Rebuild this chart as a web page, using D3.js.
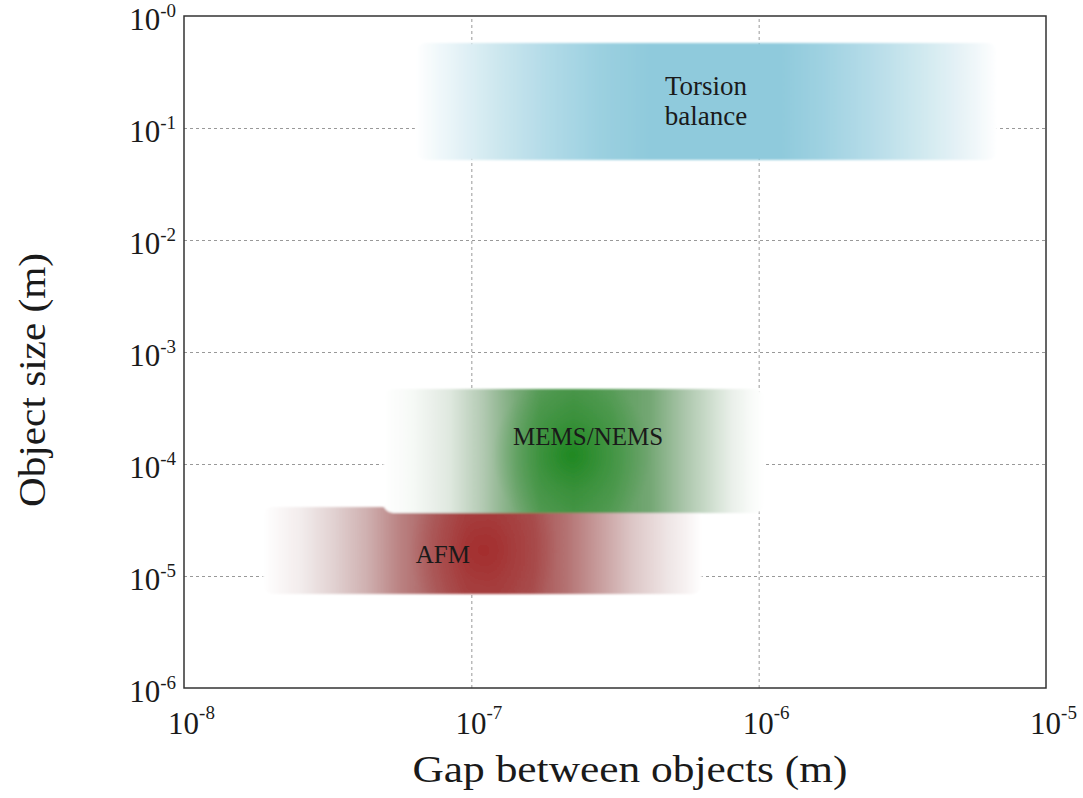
<!DOCTYPE html>
<html><head><meta charset="utf-8">
<script src="https://cdn.jsdelivr.net/npm/d3@7"></script>
<style>body{margin:0;background:#fff;} svg{display:block;font-family:"Liberation Serif","Times New Roman",serif;}</style>
</head><body><svg id="c" width="1083" height="798"></svg>
<script>
// ---- data ----
const xTicks = [1e-8, 1e-7, 1e-6, 1e-5];
const xTickExp = ["-8", "-7", "-6", "-5"];
const yTicks = [1, 1e-1, 1e-2, 1e-3, 1e-4, 1e-5, 1e-6];
const yTickExp = ["-0", "-1", "-2", "-3", "-4", "-5", "-6"];
const xTitle = "Gap between objects (m)";
const yTitle = "Object size (m)";

const regionNames = ["Torsion balance", "AFM", "MEMS/NEMS"];
const regionLabelLines = [["Torsion", "balance"], ["AFM"], ["MEMS/NEMS"]];
const regionXMin = [6.4e-8, 1.88e-8, 4.93e-8];
const regionXMax = [6.8e-6, 6.35e-7, 1.05e-6];
const regionYMax = [0.574, 4.13e-5, 4.68e-4];
const regionYMin = [0.0518, 6.9e-6, 3.65e-5];
const regionPeakX = [6.56e-7, 1.1e-7, 2.24e-7];
const regionPeakY = [0.174, 1.7e-5, 1.2e-4];
const labelX = [6.56e-7, 7.96e-8, 2.55e-7];
const labelY = [0.174, 1.56e-5, 1.76e-4];

// ---- styles ----
const bandStops = [
  [[0,"#ffffff"],[0.062,"#e8f4f8"],[0.147,"#cbe6ee"],[0.233,"#b0dae7"],[0.318,"#9bd0e0"],[0.404,"#8fcadc"],[0.627,"#8fcadc"],[0.695,"#9ed1e1"],[0.781,"#b5dce8"],[0.866,"#cfe8ef"],[0.952,"#ecf5f8"],[1,"#ffffff"]],
  [[0,"#ffffff"],[0.084,"#f3eded"],[0.16,"#e2d2d2"],[0.237,"#cfb0b0"],[0.312,"#ba8282"],[0.387,"#ac6262"],[0.465,"#a64848"],[0.53,"#a64646"],[0.615,"#a85151"],[0.692,"#b47272"],[0.768,"#c89e9e"],[0.843,"#ddc7c7"],[0.92,"#eee4e4"],[0.973,"#f9f5f5"],[1,"#ffffff"]],
  [[0,"#ffffff"],[0.08,"#f6f9f6"],[0.175,"#dfe8df"],[0.26,"#b3cab3"],[0.306,"#94b894"],[0.35,"#77a977"],[0.41,"#5a9c5a"],[0.5,"#4f974f"],[0.6,"#5a9d5a"],[0.70,"#74a774"],[0.785,"#a8c4a8"],[0.874,"#d6e3d6"],[0.916,"#eaf0ea"],[0.97,"#fafcfa"],[1,"#ffffff"]]
];
const spotStyle = [
  {color:"#8cc8db", op:0, r:10},
  {color:"#a32222", op:0.7, r:75},
  {color:"#17861a", op:0.85, r:80}
];
const labelFont = [27, 25, 25];

const W = 1083, H = 798;
const m = {left:184, right:1046, top:16, bottom:688};
const x = d3.scaleLog().domain([1e-8, 1e-5]).range([m.left, m.right]);
const y = d3.scaleLog().domain([1e-6, 1]).range([m.bottom, m.top]);

const svg = d3.select("#c");
const defs = svg.append("defs");
const f = defs.append("filter").attr("id","soft").attr("x","-5%").attr("y","-10%").attr("width","110%").attr("height","120%");
f.append("feGaussianBlur").attr("stdDeviation",1.3);

// grid
const gridX = svg.append("g").attr("transform",`translate(0,${m.bottom})`)
  .call(d3.axisBottom(x).tickValues(xTicks.slice(1,-1)).tickSize(-(m.bottom-m.top)).tickFormat(""));
gridX.select(".domain").remove();
gridX.selectAll("line").attr("stroke","#999").attr("stroke-dasharray","3,3");
const gridY = svg.append("g").attr("transform",`translate(${m.left},0)`)
  .call(d3.axisLeft(y).tickValues(yTicks.slice(1,-1)).tickSize(-(m.right-m.left)).tickFormat(""));
gridY.select(".domain").remove();
gridY.selectAll("line").attr("stroke","#999").attr("stroke-dasharray","3,3");

// regions
const regions = svg.append("g").attr("filter","url(#soft)");
regionNames.forEach((name, i) => {
  const x0 = x(regionXMin[i]), x1 = x(regionXMax[i]);
  const y0 = y(regionYMax[i]), y1 = y(regionYMin[i]);
  const lg = defs.append("linearGradient").attr("id","lg"+i).attr("x1",0).attr("x2",1).attr("y1",0).attr("y2",0);
  bandStops[i].forEach(s => lg.append("stop").attr("offset",s[0]).attr("stop-color",s[1]));
  const cp = defs.append("clipPath").attr("id","cp"+i);
  cp.append("rect").attr("x",x0).attr("y",y0).attr("width",x1-x0).attr("height",y1-y0).attr("rx",10);
  const g = regions.append("g");
  g.append("rect").attr("x",x0).attr("y",y0).attr("width",x1-x0).attr("height",y1-y0).attr("rx",10)
    .attr("fill","url(#lg"+i+")");
  const ss = spotStyle[i];
  if (ss.op > 0) {
    const rg = defs.append("radialGradient").attr("id","rg"+i);
    rg.append("stop").attr("offset",0).attr("stop-color",ss.color).attr("stop-opacity",ss.op);
    rg.append("stop").attr("offset",0.45).attr("stop-color",ss.color).attr("stop-opacity",ss.op*0.45);
    rg.append("stop").attr("offset",1).attr("stop-color",ss.color).attr("stop-opacity",0);
    g.append("circle").attr("cx",x(regionPeakX[i])).attr("cy",y(regionPeakY[i])).attr("r",ss.r)
      .attr("fill","url(#rg"+i+")").attr("clip-path","url(#cp"+i+")");
  }
});

// region labels
regionNames.forEach((name, i) => {
  const lines = regionLabelLines[i];
  const t = svg.append("text").attr("x",x(labelX[i])).attr("y",y(labelY[i]))
    .attr("text-anchor","middle").attr("font-size",labelFont[i]).attr("fill","#1a1a1a");
  lines.forEach((ln, j) => {
    t.append("tspan").attr("x",x(labelX[i])).attr("y",y(labelY[i]) + (j-(lines.length-1)/2)*30 + 8.5).text(ln);
  });
});

// frame
svg.append("rect").attr("x",m.left).attr("y",m.top).attr("width",m.right-m.left).attr("height",m.bottom-m.top)
  .attr("fill","none").attr("stroke","#333").attr("stroke-width",1.5);

// tick labels
const gx = svg.append("g").attr("transform",`translate(0,${m.bottom})`)
  .call(d3.axisBottom(x).tickValues(xTicks).tickSize(0).tickFormat(""));
gx.select(".domain").remove();
gx.attr("font-size",null).attr("font-family",null);
gx.selectAll(".tick").each(function(d, i){
  const t = d3.select(this).select("text");
  t.attr("y",46).attr("dy",null).attr("x",7).attr("font-size",31).attr("fill","#1a1a1a").attr("text-anchor","middle");
  t.append("tspan").text("10");
  t.append("tspan").attr("font-size",19).attr("dy",-15).text(xTickExp[i]);
});
const gy = svg.append("g").attr("transform",`translate(${m.left},0)`)
  .call(d3.axisLeft(y).tickValues(yTicks).tickSize(0).tickFormat(""));
gy.select(".domain").remove();
gy.attr("font-size",null).attr("font-family",null);
gy.selectAll(".tick").each(function(d, i){
  const t = d3.select(this).select("text");
  t.attr("y",13).attr("dy",null).attr("x",-8).attr("font-size",31).attr("fill","#1a1a1a").attr("text-anchor","end");
  t.append("tspan").text("10");
  t.append("tspan").attr("font-size",19).attr("dy",-13).text(yTickExp[i]);
});

// axis titles
svg.append("text").attr("x",630).attr("y",782).attr("text-anchor","middle").attr("font-size",37)
  .attr("fill","#1a1a1a").attr("textLength",435).attr("lengthAdjust","spacingAndGlyphs").text(xTitle);
svg.append("text").attr("transform","translate(45,380) rotate(-90)").attr("text-anchor","middle").attr("font-size",38)
  .attr("fill","#1a1a1a").attr("textLength",254).attr("lengthAdjust","spacingAndGlyphs").text(yTitle);
</script></body></html>
